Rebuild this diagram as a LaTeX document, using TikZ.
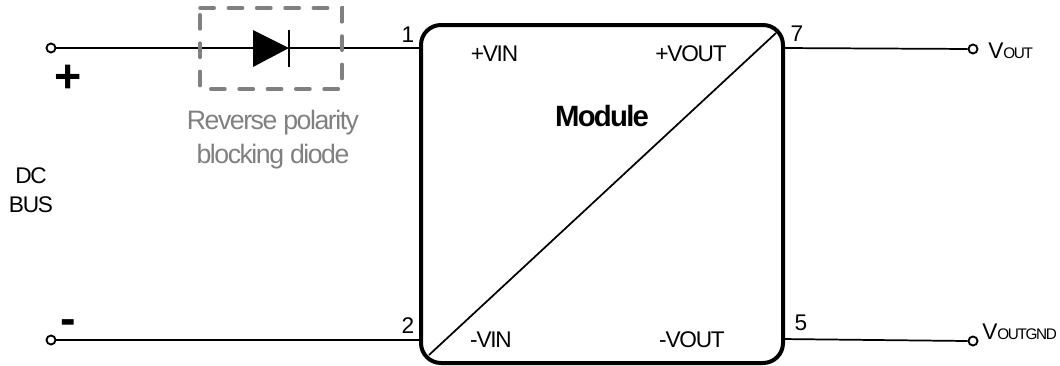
\documentclass[tikz,border=0pt]{standalone}
\usepackage{fontspec}
\setmainfont{Liberation Sans}[LetterSpace=-5.5]
\newfontfamily\tightfont{Liberation Sans}[LetterSpace=-6]
\newfontfamily\smallfont{Liberation Sans}[LetterSpace=-9]
\newfontfamily\plainfont{Liberation Sans}
\newcommand{\subtxt}[1]{{\smallfont\fontsize{11.5}{11.5}\selectfont #1}}
\definecolor{dashgray}{RGB}{128,128,128}
\tikzset{
  px/.style={x=0.75pt,y=-0.75pt},
  wire/.style={line width=1.3pt, black},
  terminal/.style={circle,draw=black,fill=white,line width=1.4pt,minimum size=6.75pt,inner sep=0pt},
  lbl/.style={inner sep=0pt,font=\fontsize{17}{17}\selectfont,text=black},
  pin/.style={inner sep=0pt,font=\plainfont\fontsize{17}{17}\selectfont,text=black},
  modbox/.style={draw=black,line width=3pt,rounded corners=15pt,minimum width=271.5pt,minimum height=253.5pt,inner sep=0pt,outer sep=0pt},
}
\begin{document}
\begin{tikzpicture}[px]
\useasboundingbox (0,0) rectangle (1060,365);
\coordinate (t1) at (423,48);
\coordinate (t2) at (423,340);
\coordinate (t7) at (781,48);
\coordinate (t5) at (781,339);
\coordinate (dl) at (253,48);
\coordinate (dr) at (289,48);
\node[terminal] (in1) at (51,48) {};
\node[terminal] (in2) at (51,340) {};
\node[terminal] (out1) at (973,49) {};
\node[terminal] (out2) at (973,341) {};
\draw[wire] (in1) -- (dl);
\draw[wire] (dr) -- (t1);
\draw[wire] (in2.east) -- (t2);
\draw[wire] (t7) -- (out1);
\draw[wire] (t5) -- (out2.west);
\node[modbox] (mod) at (602,194) {};
\draw[dashgray,line width=2.6pt,dash pattern=on 10.7pt off 10.55pt,line cap=round] (200,8) -- (342,8) -- (342,89) -- (200,89) -- cycle;
\fill[black] (253,30) -- (dr) -- (253,67) -- cycle;
\draw[line width=1.3pt] (289,30) -- (289,67);
\draw[line width=1.3pt] (429,355) -- (776,33);
\node[lbl] at (494.5,54) {+VIN};
\node[lbl] at (691,54) {+VOUT};
\node[lbl] at (491,340) {-VIN};
\node[lbl] at (692,340) {-VOUT};
\node[inner sep=0pt,font=\tightfont\bfseries\fontsize{22}{22}\selectfont] at (602,116) {Module};
\node[pin] at (408,35) {1};
\node[pin] at (408,326) {2};
\node[pin] at (797,34) {7};
\node[pin] at (801,323) {5};
\node[inner sep=0pt,font=\plainfont\bfseries\fontsize{35}{35}\selectfont] at (68,79) {+};
\node[inner sep=0pt,font=\plainfont\bfseries\fontsize{35}{35}\selectfont] at (68,327) {-};
\node[lbl,align=center,text=dashgray,font=\fontsize{20}{25.5}\selectfont] at (273,140) {Reverse polarity\\blocking diode};
\node[lbl,align=center,font=\fontsize{17}{22}\selectfont] at (31,190) {DC\\BUS};
\node[lbl,anchor=west] at (988,51) {V\subtxt{OUT}};
\node[lbl,anchor=west] at (982,332) {V\subtxt{OUTGND}};
\end{tikzpicture}
\end{document}
